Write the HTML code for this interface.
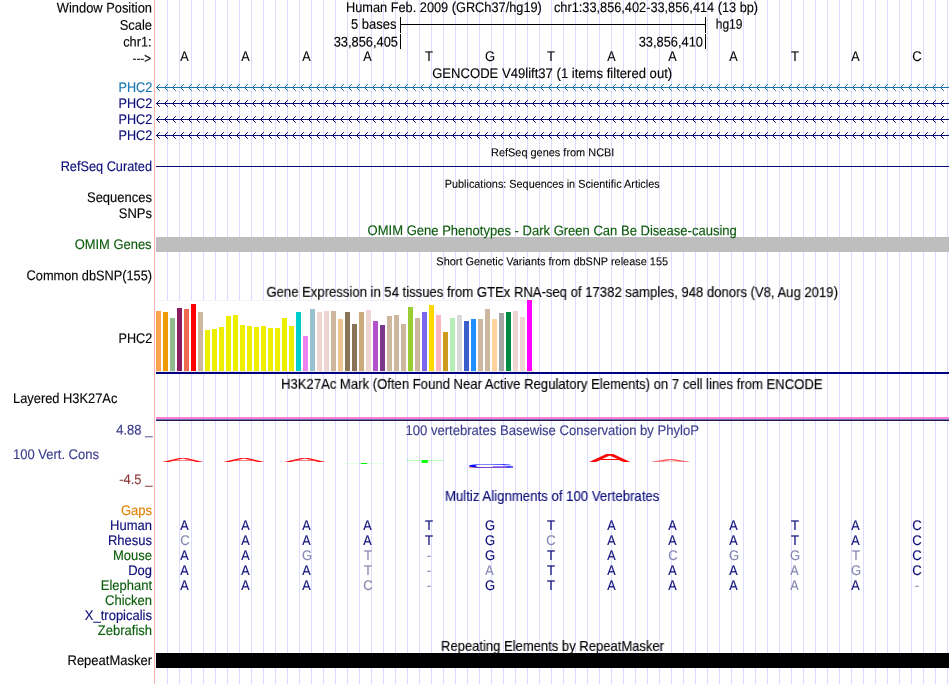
<!DOCTYPE html>
<html><head><meta charset="utf-8"><title>UCSC Genome Browser chr1:33,856,402-33,856,414</title>
<style>
html,body{margin:0;padding:0;background:#fff;}
svg{display:block;will-change:transform;font-family:'Liberation Sans', sans-serif;}
svg rect,svg path{shape-rendering:crispEdges;}
</style></head><body>
<svg width="950" height="684" viewBox="0 0 950 684">
<rect x="0" y="0" width="950" height="684" fill="#fff"/>
<path d="M167.5 0V684M179.5 0V684M191.5 0V684M203.5 0V684M215.5 0V684M227.5 0V684M239.5 0V684M251.5 0V684M263.5 0V684M275.5 0V684M287.5 0V684M299.5 0V684M311.5 0V684M323.5 0V684M335.5 0V684M347.5 0V684M359.5 0V684M371.5 0V684M383.5 0V684M395.5 0V684M407.5 0V684M419.5 0V684M431.5 0V684M443.5 0V684M455.5 0V684M467.5 0V684M479.5 0V684M491.5 0V684M503.5 0V684M515.5 0V684M527.5 0V684M539.5 0V684M551.5 0V684M563.5 0V684M575.5 0V684M587.5 0V684M599.5 0V684M611.5 0V684M623.5 0V684M635.5 0V684M647.5 0V684M659.5 0V684M671.5 0V684M683.5 0V684M695.5 0V684M707.5 0V684M719.5 0V684M731.5 0V684M743.5 0V684M755.5 0V684M767.5 0V684M779.5 0V684M791.5 0V684M803.5 0V684M815.5 0V684M827.5 0V684M839.5 0V684M851.5 0V684M863.5 0V684M875.5 0V684M887.5 0V684M899.5 0V684M911.5 0V684M923.5 0V684M935.5 0V684M947.5 0V684" stroke="#dcdcff" stroke-width="1" fill="none"/>
<rect x="154" y="0" width="1" height="684" fill="#ffb4b4"/>
<rect x="400" y="17" width="1" height="16" fill="#000"/>
<rect x="705" y="17" width="1" height="16" fill="#000"/>
<rect x="400" y="24" width="306" height="1" fill="#000"/>
<rect x="400" y="34" width="1" height="15" fill="#000"/>
<rect x="705" y="34" width="1" height="15" fill="#000"/>
<rect x="156" y="87" width="793" height="1" fill="#1876b0"/>
<path d="M159.5 84.5L156.5 87.5L159.5 90.5M167.5 84.5L164.5 87.5L167.5 90.5M175.5 84.5L172.5 87.5L175.5 90.5M183.5 84.5L180.5 87.5L183.5 90.5M191.5 84.5L188.5 87.5L191.5 90.5M199.5 84.5L196.5 87.5L199.5 90.5M207.5 84.5L204.5 87.5L207.5 90.5M215.5 84.5L212.5 87.5L215.5 90.5M223.5 84.5L220.5 87.5L223.5 90.5M231.5 84.5L228.5 87.5L231.5 90.5M239.5 84.5L236.5 87.5L239.5 90.5M247.5 84.5L244.5 87.5L247.5 90.5M255.5 84.5L252.5 87.5L255.5 90.5M263.5 84.5L260.5 87.5L263.5 90.5M271.5 84.5L268.5 87.5L271.5 90.5M279.5 84.5L276.5 87.5L279.5 90.5M287.5 84.5L284.5 87.5L287.5 90.5M295.5 84.5L292.5 87.5L295.5 90.5M303.5 84.5L300.5 87.5L303.5 90.5M311.5 84.5L308.5 87.5L311.5 90.5M319.5 84.5L316.5 87.5L319.5 90.5M327.5 84.5L324.5 87.5L327.5 90.5M335.5 84.5L332.5 87.5L335.5 90.5M343.5 84.5L340.5 87.5L343.5 90.5M351.5 84.5L348.5 87.5L351.5 90.5M359.5 84.5L356.5 87.5L359.5 90.5M367.5 84.5L364.5 87.5L367.5 90.5M375.5 84.5L372.5 87.5L375.5 90.5M383.5 84.5L380.5 87.5L383.5 90.5M391.5 84.5L388.5 87.5L391.5 90.5M399.5 84.5L396.5 87.5L399.5 90.5M407.5 84.5L404.5 87.5L407.5 90.5M415.5 84.5L412.5 87.5L415.5 90.5M423.5 84.5L420.5 87.5L423.5 90.5M431.5 84.5L428.5 87.5L431.5 90.5M439.5 84.5L436.5 87.5L439.5 90.5M447.5 84.5L444.5 87.5L447.5 90.5M455.5 84.5L452.5 87.5L455.5 90.5M463.5 84.5L460.5 87.5L463.5 90.5M471.5 84.5L468.5 87.5L471.5 90.5M479.5 84.5L476.5 87.5L479.5 90.5M487.5 84.5L484.5 87.5L487.5 90.5M495.5 84.5L492.5 87.5L495.5 90.5M503.5 84.5L500.5 87.5L503.5 90.5M511.5 84.5L508.5 87.5L511.5 90.5M519.5 84.5L516.5 87.5L519.5 90.5M527.5 84.5L524.5 87.5L527.5 90.5M535.5 84.5L532.5 87.5L535.5 90.5M543.5 84.5L540.5 87.5L543.5 90.5M551.5 84.5L548.5 87.5L551.5 90.5M559.5 84.5L556.5 87.5L559.5 90.5M567.5 84.5L564.5 87.5L567.5 90.5M575.5 84.5L572.5 87.5L575.5 90.5M583.5 84.5L580.5 87.5L583.5 90.5M591.5 84.5L588.5 87.5L591.5 90.5M599.5 84.5L596.5 87.5L599.5 90.5M607.5 84.5L604.5 87.5L607.5 90.5M615.5 84.5L612.5 87.5L615.5 90.5M623.5 84.5L620.5 87.5L623.5 90.5M631.5 84.5L628.5 87.5L631.5 90.5M639.5 84.5L636.5 87.5L639.5 90.5M647.5 84.5L644.5 87.5L647.5 90.5M655.5 84.5L652.5 87.5L655.5 90.5M663.5 84.5L660.5 87.5L663.5 90.5M671.5 84.5L668.5 87.5L671.5 90.5M679.5 84.5L676.5 87.5L679.5 90.5M687.5 84.5L684.5 87.5L687.5 90.5M695.5 84.5L692.5 87.5L695.5 90.5M703.5 84.5L700.5 87.5L703.5 90.5M711.5 84.5L708.5 87.5L711.5 90.5M719.5 84.5L716.5 87.5L719.5 90.5M727.5 84.5L724.5 87.5L727.5 90.5M735.5 84.5L732.5 87.5L735.5 90.5M743.5 84.5L740.5 87.5L743.5 90.5M751.5 84.5L748.5 87.5L751.5 90.5M759.5 84.5L756.5 87.5L759.5 90.5M767.5 84.5L764.5 87.5L767.5 90.5M775.5 84.5L772.5 87.5L775.5 90.5M783.5 84.5L780.5 87.5L783.5 90.5M791.5 84.5L788.5 87.5L791.5 90.5M799.5 84.5L796.5 87.5L799.5 90.5M807.5 84.5L804.5 87.5L807.5 90.5M815.5 84.5L812.5 87.5L815.5 90.5M823.5 84.5L820.5 87.5L823.5 90.5M831.5 84.5L828.5 87.5L831.5 90.5M839.5 84.5L836.5 87.5L839.5 90.5M847.5 84.5L844.5 87.5L847.5 90.5M855.5 84.5L852.5 87.5L855.5 90.5M863.5 84.5L860.5 87.5L863.5 90.5M871.5 84.5L868.5 87.5L871.5 90.5M879.5 84.5L876.5 87.5L879.5 90.5M887.5 84.5L884.5 87.5L887.5 90.5M895.5 84.5L892.5 87.5L895.5 90.5M903.5 84.5L900.5 87.5L903.5 90.5M911.5 84.5L908.5 87.5L911.5 90.5M919.5 84.5L916.5 87.5L919.5 90.5M927.5 84.5L924.5 87.5L927.5 90.5M935.5 84.5L932.5 87.5L935.5 90.5M943.5 84.5L940.5 87.5L943.5 90.5" stroke="#1876b0" stroke-width="1" fill="none" stroke-linecap="square" style="shape-rendering:geometricPrecision"/>
<rect x="156" y="103" width="793" height="1" fill="#0c0c78"/>
<path d="M159.5 100.5L156.5 103.5L159.5 106.5M167.5 100.5L164.5 103.5L167.5 106.5M175.5 100.5L172.5 103.5L175.5 106.5M183.5 100.5L180.5 103.5L183.5 106.5M191.5 100.5L188.5 103.5L191.5 106.5M199.5 100.5L196.5 103.5L199.5 106.5M207.5 100.5L204.5 103.5L207.5 106.5M215.5 100.5L212.5 103.5L215.5 106.5M223.5 100.5L220.5 103.5L223.5 106.5M231.5 100.5L228.5 103.5L231.5 106.5M239.5 100.5L236.5 103.5L239.5 106.5M247.5 100.5L244.5 103.5L247.5 106.5M255.5 100.5L252.5 103.5L255.5 106.5M263.5 100.5L260.5 103.5L263.5 106.5M271.5 100.5L268.5 103.5L271.5 106.5M279.5 100.5L276.5 103.5L279.5 106.5M287.5 100.5L284.5 103.5L287.5 106.5M295.5 100.5L292.5 103.5L295.5 106.5M303.5 100.5L300.5 103.5L303.5 106.5M311.5 100.5L308.5 103.5L311.5 106.5M319.5 100.5L316.5 103.5L319.5 106.5M327.5 100.5L324.5 103.5L327.5 106.5M335.5 100.5L332.5 103.5L335.5 106.5M343.5 100.5L340.5 103.5L343.5 106.5M351.5 100.5L348.5 103.5L351.5 106.5M359.5 100.5L356.5 103.5L359.5 106.5M367.5 100.5L364.5 103.5L367.5 106.5M375.5 100.5L372.5 103.5L375.5 106.5M383.5 100.5L380.5 103.5L383.5 106.5M391.5 100.5L388.5 103.5L391.5 106.5M399.5 100.5L396.5 103.5L399.5 106.5M407.5 100.5L404.5 103.5L407.5 106.5M415.5 100.5L412.5 103.5L415.5 106.5M423.5 100.5L420.5 103.5L423.5 106.5M431.5 100.5L428.5 103.5L431.5 106.5M439.5 100.5L436.5 103.5L439.5 106.5M447.5 100.5L444.5 103.5L447.5 106.5M455.5 100.5L452.5 103.5L455.5 106.5M463.5 100.5L460.5 103.5L463.5 106.5M471.5 100.5L468.5 103.5L471.5 106.5M479.5 100.5L476.5 103.5L479.5 106.5M487.5 100.5L484.5 103.5L487.5 106.5M495.5 100.5L492.5 103.5L495.5 106.5M503.5 100.5L500.5 103.5L503.5 106.5M511.5 100.5L508.5 103.5L511.5 106.5M519.5 100.5L516.5 103.5L519.5 106.5M527.5 100.5L524.5 103.5L527.5 106.5M535.5 100.5L532.5 103.5L535.5 106.5M543.5 100.5L540.5 103.5L543.5 106.5M551.5 100.5L548.5 103.5L551.5 106.5M559.5 100.5L556.5 103.5L559.5 106.5M567.5 100.5L564.5 103.5L567.5 106.5M575.5 100.5L572.5 103.5L575.5 106.5M583.5 100.5L580.5 103.5L583.5 106.5M591.5 100.5L588.5 103.5L591.5 106.5M599.5 100.5L596.5 103.5L599.5 106.5M607.5 100.5L604.5 103.5L607.5 106.5M615.5 100.5L612.5 103.5L615.5 106.5M623.5 100.5L620.5 103.5L623.5 106.5M631.5 100.5L628.5 103.5L631.5 106.5M639.5 100.5L636.5 103.5L639.5 106.5M647.5 100.5L644.5 103.5L647.5 106.5M655.5 100.5L652.5 103.5L655.5 106.5M663.5 100.5L660.5 103.5L663.5 106.5M671.5 100.5L668.5 103.5L671.5 106.5M679.5 100.5L676.5 103.5L679.5 106.5M687.5 100.5L684.5 103.5L687.5 106.5M695.5 100.5L692.5 103.5L695.5 106.5M703.5 100.5L700.5 103.5L703.5 106.5M711.5 100.5L708.5 103.5L711.5 106.5M719.5 100.5L716.5 103.5L719.5 106.5M727.5 100.5L724.5 103.5L727.5 106.5M735.5 100.5L732.5 103.5L735.5 106.5M743.5 100.5L740.5 103.5L743.5 106.5M751.5 100.5L748.5 103.5L751.5 106.5M759.5 100.5L756.5 103.5L759.5 106.5M767.5 100.5L764.5 103.5L767.5 106.5M775.5 100.5L772.5 103.5L775.5 106.5M783.5 100.5L780.5 103.5L783.5 106.5M791.5 100.5L788.5 103.5L791.5 106.5M799.5 100.5L796.5 103.5L799.5 106.5M807.5 100.5L804.5 103.5L807.5 106.5M815.5 100.5L812.5 103.5L815.5 106.5M823.5 100.5L820.5 103.5L823.5 106.5M831.5 100.5L828.5 103.5L831.5 106.5M839.5 100.5L836.5 103.5L839.5 106.5M847.5 100.5L844.5 103.5L847.5 106.5M855.5 100.5L852.5 103.5L855.5 106.5M863.5 100.5L860.5 103.5L863.5 106.5M871.5 100.5L868.5 103.5L871.5 106.5M879.5 100.5L876.5 103.5L879.5 106.5M887.5 100.5L884.5 103.5L887.5 106.5M895.5 100.5L892.5 103.5L895.5 106.5M903.5 100.5L900.5 103.5L903.5 106.5M911.5 100.5L908.5 103.5L911.5 106.5M919.5 100.5L916.5 103.5L919.5 106.5M927.5 100.5L924.5 103.5L927.5 106.5M935.5 100.5L932.5 103.5L935.5 106.5M943.5 100.5L940.5 103.5L943.5 106.5" stroke="#0c0c78" stroke-width="1" fill="none" stroke-linecap="square" style="shape-rendering:geometricPrecision"/>
<rect x="156" y="119" width="793" height="1" fill="#0c0c78"/>
<path d="M159.5 116.5L156.5 119.5L159.5 122.5M167.5 116.5L164.5 119.5L167.5 122.5M175.5 116.5L172.5 119.5L175.5 122.5M183.5 116.5L180.5 119.5L183.5 122.5M191.5 116.5L188.5 119.5L191.5 122.5M199.5 116.5L196.5 119.5L199.5 122.5M207.5 116.5L204.5 119.5L207.5 122.5M215.5 116.5L212.5 119.5L215.5 122.5M223.5 116.5L220.5 119.5L223.5 122.5M231.5 116.5L228.5 119.5L231.5 122.5M239.5 116.5L236.5 119.5L239.5 122.5M247.5 116.5L244.5 119.5L247.5 122.5M255.5 116.5L252.5 119.5L255.5 122.5M263.5 116.5L260.5 119.5L263.5 122.5M271.5 116.5L268.5 119.5L271.5 122.5M279.5 116.5L276.5 119.5L279.5 122.5M287.5 116.5L284.5 119.5L287.5 122.5M295.5 116.5L292.5 119.5L295.5 122.5M303.5 116.5L300.5 119.5L303.5 122.5M311.5 116.5L308.5 119.5L311.5 122.5M319.5 116.5L316.5 119.5L319.5 122.5M327.5 116.5L324.5 119.5L327.5 122.5M335.5 116.5L332.5 119.5L335.5 122.5M343.5 116.5L340.5 119.5L343.5 122.5M351.5 116.5L348.5 119.5L351.5 122.5M359.5 116.5L356.5 119.5L359.5 122.5M367.5 116.5L364.5 119.5L367.5 122.5M375.5 116.5L372.5 119.5L375.5 122.5M383.5 116.5L380.5 119.5L383.5 122.5M391.5 116.5L388.5 119.5L391.5 122.5M399.5 116.5L396.5 119.5L399.5 122.5M407.5 116.5L404.5 119.5L407.5 122.5M415.5 116.5L412.5 119.5L415.5 122.5M423.5 116.5L420.5 119.5L423.5 122.5M431.5 116.5L428.5 119.5L431.5 122.5M439.5 116.5L436.5 119.5L439.5 122.5M447.5 116.5L444.5 119.5L447.5 122.5M455.5 116.5L452.5 119.5L455.5 122.5M463.5 116.5L460.5 119.5L463.5 122.5M471.5 116.5L468.5 119.5L471.5 122.5M479.5 116.5L476.5 119.5L479.5 122.5M487.5 116.5L484.5 119.5L487.5 122.5M495.5 116.5L492.5 119.5L495.5 122.5M503.5 116.5L500.5 119.5L503.5 122.5M511.5 116.5L508.5 119.5L511.5 122.5M519.5 116.5L516.5 119.5L519.5 122.5M527.5 116.5L524.5 119.5L527.5 122.5M535.5 116.5L532.5 119.5L535.5 122.5M543.5 116.5L540.5 119.5L543.5 122.5M551.5 116.5L548.5 119.5L551.5 122.5M559.5 116.5L556.5 119.5L559.5 122.5M567.5 116.5L564.5 119.5L567.5 122.5M575.5 116.5L572.5 119.5L575.5 122.5M583.5 116.5L580.5 119.5L583.5 122.5M591.5 116.5L588.5 119.5L591.5 122.5M599.5 116.5L596.5 119.5L599.5 122.5M607.5 116.5L604.5 119.5L607.5 122.5M615.5 116.5L612.5 119.5L615.5 122.5M623.5 116.5L620.5 119.5L623.5 122.5M631.5 116.5L628.5 119.5L631.5 122.5M639.5 116.5L636.5 119.5L639.5 122.5M647.5 116.5L644.5 119.5L647.5 122.5M655.5 116.5L652.5 119.5L655.5 122.5M663.5 116.5L660.5 119.5L663.5 122.5M671.5 116.5L668.5 119.5L671.5 122.5M679.5 116.5L676.5 119.5L679.5 122.5M687.5 116.5L684.5 119.5L687.5 122.5M695.5 116.5L692.5 119.5L695.5 122.5M703.5 116.5L700.5 119.5L703.5 122.5M711.5 116.5L708.5 119.5L711.5 122.5M719.5 116.5L716.5 119.5L719.5 122.5M727.5 116.5L724.5 119.5L727.5 122.5M735.5 116.5L732.5 119.5L735.5 122.5M743.5 116.5L740.5 119.5L743.5 122.5M751.5 116.5L748.5 119.5L751.5 122.5M759.5 116.5L756.5 119.5L759.5 122.5M767.5 116.5L764.5 119.5L767.5 122.5M775.5 116.5L772.5 119.5L775.5 122.5M783.5 116.5L780.5 119.5L783.5 122.5M791.5 116.5L788.5 119.5L791.5 122.5M799.5 116.5L796.5 119.5L799.5 122.5M807.5 116.5L804.5 119.5L807.5 122.5M815.5 116.5L812.5 119.5L815.5 122.5M823.5 116.5L820.5 119.5L823.5 122.5M831.5 116.5L828.5 119.5L831.5 122.5M839.5 116.5L836.5 119.5L839.5 122.5M847.5 116.5L844.5 119.5L847.5 122.5M855.5 116.5L852.5 119.5L855.5 122.5M863.5 116.5L860.5 119.5L863.5 122.5M871.5 116.5L868.5 119.5L871.5 122.5M879.5 116.5L876.5 119.5L879.5 122.5M887.5 116.5L884.5 119.5L887.5 122.5M895.5 116.5L892.5 119.5L895.5 122.5M903.5 116.5L900.5 119.5L903.5 122.5M911.5 116.5L908.5 119.5L911.5 122.5M919.5 116.5L916.5 119.5L919.5 122.5M927.5 116.5L924.5 119.5L927.5 122.5M935.5 116.5L932.5 119.5L935.5 122.5M943.5 116.5L940.5 119.5L943.5 122.5" stroke="#0c0c78" stroke-width="1" fill="none" stroke-linecap="square" style="shape-rendering:geometricPrecision"/>
<rect x="156" y="135" width="793" height="1" fill="#0c0c78"/>
<path d="M159.5 132.5L156.5 135.5L159.5 138.5M167.5 132.5L164.5 135.5L167.5 138.5M175.5 132.5L172.5 135.5L175.5 138.5M183.5 132.5L180.5 135.5L183.5 138.5M191.5 132.5L188.5 135.5L191.5 138.5M199.5 132.5L196.5 135.5L199.5 138.5M207.5 132.5L204.5 135.5L207.5 138.5M215.5 132.5L212.5 135.5L215.5 138.5M223.5 132.5L220.5 135.5L223.5 138.5M231.5 132.5L228.5 135.5L231.5 138.5M239.5 132.5L236.5 135.5L239.5 138.5M247.5 132.5L244.5 135.5L247.5 138.5M255.5 132.5L252.5 135.5L255.5 138.5M263.5 132.5L260.5 135.5L263.5 138.5M271.5 132.5L268.5 135.5L271.5 138.5M279.5 132.5L276.5 135.5L279.5 138.5M287.5 132.5L284.5 135.5L287.5 138.5M295.5 132.5L292.5 135.5L295.5 138.5M303.5 132.5L300.5 135.5L303.5 138.5M311.5 132.5L308.5 135.5L311.5 138.5M319.5 132.5L316.5 135.5L319.5 138.5M327.5 132.5L324.5 135.5L327.5 138.5M335.5 132.5L332.5 135.5L335.5 138.5M343.5 132.5L340.5 135.5L343.5 138.5M351.5 132.5L348.5 135.5L351.5 138.5M359.5 132.5L356.5 135.5L359.5 138.5M367.5 132.5L364.5 135.5L367.5 138.5M375.5 132.5L372.5 135.5L375.5 138.5M383.5 132.5L380.5 135.5L383.5 138.5M391.5 132.5L388.5 135.5L391.5 138.5M399.5 132.5L396.5 135.5L399.5 138.5M407.5 132.5L404.5 135.5L407.5 138.5M415.5 132.5L412.5 135.5L415.5 138.5M423.5 132.5L420.5 135.5L423.5 138.5M431.5 132.5L428.5 135.5L431.5 138.5M439.5 132.5L436.5 135.5L439.5 138.5M447.5 132.5L444.5 135.5L447.5 138.5M455.5 132.5L452.5 135.5L455.5 138.5M463.5 132.5L460.5 135.5L463.5 138.5M471.5 132.5L468.5 135.5L471.5 138.5M479.5 132.5L476.5 135.5L479.5 138.5M487.5 132.5L484.5 135.5L487.5 138.5M495.5 132.5L492.5 135.5L495.5 138.5M503.5 132.5L500.5 135.5L503.5 138.5M511.5 132.5L508.5 135.5L511.5 138.5M519.5 132.5L516.5 135.5L519.5 138.5M527.5 132.5L524.5 135.5L527.5 138.5M535.5 132.5L532.5 135.5L535.5 138.5M543.5 132.5L540.5 135.5L543.5 138.5M551.5 132.5L548.5 135.5L551.5 138.5M559.5 132.5L556.5 135.5L559.5 138.5M567.5 132.5L564.5 135.5L567.5 138.5M575.5 132.5L572.5 135.5L575.5 138.5M583.5 132.5L580.5 135.5L583.5 138.5M591.5 132.5L588.5 135.5L591.5 138.5M599.5 132.5L596.5 135.5L599.5 138.5M607.5 132.5L604.5 135.5L607.5 138.5M615.5 132.5L612.5 135.5L615.5 138.5M623.5 132.5L620.5 135.5L623.5 138.5M631.5 132.5L628.5 135.5L631.5 138.5M639.5 132.5L636.5 135.5L639.5 138.5M647.5 132.5L644.5 135.5L647.5 138.5M655.5 132.5L652.5 135.5L655.5 138.5M663.5 132.5L660.5 135.5L663.5 138.5M671.5 132.5L668.5 135.5L671.5 138.5M679.5 132.5L676.5 135.5L679.5 138.5M687.5 132.5L684.5 135.5L687.5 138.5M695.5 132.5L692.5 135.5L695.5 138.5M703.5 132.5L700.5 135.5L703.5 138.5M711.5 132.5L708.5 135.5L711.5 138.5M719.5 132.5L716.5 135.5L719.5 138.5M727.5 132.5L724.5 135.5L727.5 138.5M735.5 132.5L732.5 135.5L735.5 138.5M743.5 132.5L740.5 135.5L743.5 138.5M751.5 132.5L748.5 135.5L751.5 138.5M759.5 132.5L756.5 135.5L759.5 138.5M767.5 132.5L764.5 135.5L767.5 138.5M775.5 132.5L772.5 135.5L775.5 138.5M783.5 132.5L780.5 135.5L783.5 138.5M791.5 132.5L788.5 135.5L791.5 138.5M799.5 132.5L796.5 135.5L799.5 138.5M807.5 132.5L804.5 135.5L807.5 138.5M815.5 132.5L812.5 135.5L815.5 138.5M823.5 132.5L820.5 135.5L823.5 138.5M831.5 132.5L828.5 135.5L831.5 138.5M839.5 132.5L836.5 135.5L839.5 138.5M847.5 132.5L844.5 135.5L847.5 138.5M855.5 132.5L852.5 135.5L855.5 138.5M863.5 132.5L860.5 135.5L863.5 138.5M871.5 132.5L868.5 135.5L871.5 138.5M879.5 132.5L876.5 135.5L879.5 138.5M887.5 132.5L884.5 135.5L887.5 138.5M895.5 132.5L892.5 135.5L895.5 138.5M903.5 132.5L900.5 135.5L903.5 138.5M911.5 132.5L908.5 135.5L911.5 138.5M919.5 132.5L916.5 135.5L919.5 138.5M927.5 132.5L924.5 135.5L927.5 138.5M935.5 132.5L932.5 135.5L935.5 138.5M943.5 132.5L940.5 135.5L943.5 138.5" stroke="#0c0c78" stroke-width="1" fill="none" stroke-linecap="square" style="shape-rendering:geometricPrecision"/>
<rect x="156" y="166" width="793" height="1" fill="#0c0c78"/>
<rect x="156" y="237" width="793" height="15" fill="#bebebe"/>
<rect x="156" y="300" width="378" height="72" fill="#fff"/>
<rect x="156" y="300" width="378" height="1" fill="#f3f3f3"/>
<rect x="533" y="300" width="1" height="72" fill="#f3f3f3"/>
<rect x="156" y="371" width="378" height="1" fill="#e6e8e6"/>
<rect x="156" y="311" width="5" height="60" fill="#FFA54F"/>
<rect x="163" y="312" width="5" height="59" fill="#EE9A00"/>
<rect x="170" y="318" width="5" height="53" fill="#8FBC8F"/>
<rect x="177" y="308" width="5" height="63" fill="#8B1C62"/>
<rect x="184" y="309" width="5" height="62" fill="#EE6A50"/>
<rect x="191" y="304" width="5" height="67" fill="#FF0000"/>
<rect x="198" y="312" width="5" height="59" fill="#CDB79E"/>
<rect x="205" y="330" width="5" height="41" fill="#EEEE00"/>
<rect x="212" y="329" width="5" height="42" fill="#EEEE00"/>
<rect x="219" y="327" width="5" height="44" fill="#EEEE00"/>
<rect x="226" y="316" width="5" height="55" fill="#EEEE00"/>
<rect x="233" y="315" width="5" height="56" fill="#EEEE00"/>
<rect x="240" y="325" width="5" height="46" fill="#EEEE00"/>
<rect x="247" y="326" width="5" height="45" fill="#EEEE00"/>
<rect x="254" y="327" width="5" height="44" fill="#EEEE00"/>
<rect x="261" y="326" width="5" height="45" fill="#EEEE00"/>
<rect x="268" y="328" width="5" height="43" fill="#EEEE00"/>
<rect x="275" y="328" width="5" height="43" fill="#EEEE00"/>
<rect x="282" y="318" width="5" height="53" fill="#EEEE00"/>
<rect x="289" y="326" width="5" height="45" fill="#EEEE00"/>
<rect x="296" y="312" width="5" height="59" fill="#00CDCD"/>
<rect x="303" y="336" width="5" height="35" fill="#EE82EE"/>
<rect x="310" y="309" width="5" height="62" fill="#9AC0CD"/>
<rect x="317" y="312" width="5" height="59" fill="#EED5D2"/>
<rect x="324" y="311" width="5" height="60" fill="#EED5D2"/>
<rect x="331" y="311" width="5" height="60" fill="#CDB79E"/>
<rect x="338" y="319" width="5" height="52" fill="#EEC591"/>
<rect x="345" y="312" width="5" height="59" fill="#8B7355"/>
<rect x="352" y="324" width="5" height="47" fill="#8B7355"/>
<rect x="359" y="312" width="5" height="59" fill="#CDAA7D"/>
<rect x="366" y="310" width="5" height="61" fill="#EED5D2"/>
<rect x="373" y="321" width="5" height="50" fill="#B452CD"/>
<rect x="380" y="325" width="5" height="46" fill="#7A378B"/>
<rect x="387" y="316" width="5" height="55" fill="#CDB79E"/>
<rect x="394" y="315" width="5" height="56" fill="#CDB79E"/>
<rect x="401" y="324" width="5" height="47" fill="#CDB79E"/>
<rect x="408" y="307" width="5" height="64" fill="#9ACD32"/>
<rect x="415" y="318" width="5" height="53" fill="#CDB79E"/>
<rect x="422" y="312" width="5" height="59" fill="#7A67EE"/>
<rect x="429" y="305" width="5" height="66" fill="#FFD700"/>
<rect x="436" y="315" width="5" height="56" fill="#FFB6C1"/>
<rect x="443" y="332" width="5" height="39" fill="#CD9B1D"/>
<rect x="450" y="318" width="5" height="53" fill="#B4EEB4"/>
<rect x="457" y="315" width="5" height="56" fill="#D9D9D9"/>
<rect x="464" y="321" width="5" height="50" fill="#3A5FCD"/>
<rect x="471" y="319" width="5" height="52" fill="#1E90FF"/>
<rect x="478" y="319" width="5" height="52" fill="#CDB79E"/>
<rect x="485" y="309" width="5" height="62" fill="#CDB79E"/>
<rect x="492" y="319" width="5" height="52" fill="#FFD39B"/>
<rect x="499" y="313" width="5" height="58" fill="#A6A6A6"/>
<rect x="506" y="312" width="5" height="59" fill="#008B45"/>
<rect x="513" y="311" width="5" height="60" fill="#EED5D2"/>
<rect x="520" y="317" width="5" height="54" fill="#EED5D2"/>
<rect x="527" y="300" width="5" height="71" fill="#FF00FF"/>
<rect x="156" y="372" width="793" height="2" fill="#000080"/>
<rect x="156" y="417" width="793" height="2" fill="#ff80d4"/>
<rect x="156" y="419" width="793" height="1" fill="#6870aa"/>
<rect x="156" y="420" width="793" height="1" fill="#2c1858"/>
<rect x="361" y="463" width="6" height="1" fill="#00f000"/>
<rect x="469" y="467" width="37" height="1" fill="#ff0000" opacity="0.45"/>
<rect x="156" y="653" width="793" height="15" fill="#000"/>
<g opacity="0.996">
<text transform="translate(152 12.5) rotate(0.035) scale(0.9208 1)" font-size="14.0" fill="#000" text-anchor="end" stroke="#000" stroke-width="0.15">Window Position</text>
<text transform="translate(152 29.7) rotate(0.035) scale(0.9249 1)" font-size="14.0" fill="#000" text-anchor="end" stroke="#000" stroke-width="0.15">Scale</text>
<text transform="translate(151.6 46.6) rotate(0.035) scale(0.9124 1)" font-size="14.0" fill="#000" text-anchor="end" stroke="#000" stroke-width="0.15">chr1:</text>
<text transform="translate(151.1 63) rotate(0.035) scale(0.8389 1)" font-size="14.0" fill="#000" text-anchor="end" stroke="#000" stroke-width="0.15">---&gt;</text>
<text transform="translate(346 12) rotate(0.035) scale(0.9125 1)" font-size="14.0" fill="#000" stroke="#000" stroke-width="0.15">Human Feb. 2009 (GRCh37/hg19)</text>
<text transform="translate(554 12) rotate(0.035) scale(0.9122 1)" font-size="14.0" fill="#000" stroke="#000" stroke-width="0.15">chr1:33,856,402-33,856,414 (13 bp)</text>
<text transform="translate(396.5 28.8) rotate(0.035) scale(0.9286 1)" font-size="14.0" fill="#000" text-anchor="end" stroke="#000" stroke-width="0.15">5 bases</text>
<text transform="translate(715.7 28.8) rotate(0.035) scale(0.8602 1)" font-size="14.0" fill="#000" stroke="#000" stroke-width="0.15">hg19</text>
<text transform="translate(398 46.5) rotate(0.035) scale(0.9190 1)" font-size="14.0" fill="#000" text-anchor="end" stroke="#000" stroke-width="0.15">33,856,405</text>
<text transform="translate(703 46.5) rotate(0.035) scale(0.9190 1)" font-size="14.0" fill="#000" text-anchor="end" stroke="#000" stroke-width="0.15">33,856,410</text>
<text transform="translate(184.4 61) rotate(0.035) scale(0.9000 1)" font-size="14.0" fill="#000" text-anchor="middle" stroke="#000" stroke-width="0.12">A</text>
<text transform="translate(245.4 61) rotate(0.035) scale(0.9000 1)" font-size="14.0" fill="#000" text-anchor="middle" stroke="#000" stroke-width="0.12">A</text>
<text transform="translate(306.4 61) rotate(0.035) scale(0.9000 1)" font-size="14.0" fill="#000" text-anchor="middle" stroke="#000" stroke-width="0.12">A</text>
<text transform="translate(367.4 61) rotate(0.035) scale(0.9000 1)" font-size="14.0" fill="#000" text-anchor="middle" stroke="#000" stroke-width="0.12">A</text>
<text transform="translate(429.0 61) rotate(0.035) scale(0.9300 1)" font-size="14.0" fill="#000" text-anchor="middle" stroke="#000" stroke-width="0.12">T</text>
<text transform="translate(490.0 61) rotate(0.035) scale(0.9300 1)" font-size="14.0" fill="#000" text-anchor="middle" stroke="#000" stroke-width="0.12">G</text>
<text transform="translate(551.0 61) rotate(0.035) scale(0.9300 1)" font-size="14.0" fill="#000" text-anchor="middle" stroke="#000" stroke-width="0.12">T</text>
<text transform="translate(611.4 61) rotate(0.035) scale(0.9000 1)" font-size="14.0" fill="#000" text-anchor="middle" stroke="#000" stroke-width="0.12">A</text>
<text transform="translate(672.4 61) rotate(0.035) scale(0.9000 1)" font-size="14.0" fill="#000" text-anchor="middle" stroke="#000" stroke-width="0.12">A</text>
<text transform="translate(733.4 61) rotate(0.035) scale(0.9000 1)" font-size="14.0" fill="#000" text-anchor="middle" stroke="#000" stroke-width="0.12">A</text>
<text transform="translate(795.0 61) rotate(0.035) scale(0.9300 1)" font-size="14.0" fill="#000" text-anchor="middle" stroke="#000" stroke-width="0.12">T</text>
<text transform="translate(855.4 61) rotate(0.035) scale(0.9000 1)" font-size="14.0" fill="#000" text-anchor="middle" stroke="#000" stroke-width="0.12">A</text>
<text transform="translate(917.0 61) rotate(0.035) scale(0.9300 1)" font-size="14.0" fill="#000" text-anchor="middle" stroke="#000" stroke-width="0.12">C</text>
<text transform="translate(552.15 78) rotate(0.035) scale(0.9355 1)" font-size="14.0" fill="#000" text-anchor="middle" stroke="#000" stroke-width="0.15">GENCODE V49lift37 (1 items filtered out)</text>
<text transform="translate(152.2 92) rotate(0.035) scale(0.9020 1)" font-size="14.0" fill="#1876b0" text-anchor="end" stroke="#1876b0" stroke-width="0.15">PHC2</text>
<text transform="translate(152.2 108) rotate(0.035) scale(0.9020 1)" font-size="14.0" fill="#0c0c78" text-anchor="end" stroke="#0c0c78" stroke-width="0.15">PHC2</text>
<text transform="translate(152.2 124) rotate(0.035) scale(0.9020 1)" font-size="14.0" fill="#0c0c78" text-anchor="end" stroke="#0c0c78" stroke-width="0.15">PHC2</text>
<text transform="translate(152.2 140) rotate(0.035) scale(0.9020 1)" font-size="14.0" fill="#0c0c78" text-anchor="end" stroke="#0c0c78" stroke-width="0.15">PHC2</text>
<text transform="translate(552.7 156.2) rotate(0.035) scale(0.9609 1)" font-size="11.4" fill="#000" text-anchor="middle" stroke="#000" stroke-width="0.1">RefSeq genes from NCBI</text>
<text transform="translate(152 171) rotate(0.035) scale(0.9113 1)" font-size="14.0" fill="#0c0c78" text-anchor="end" stroke="#0c0c78" stroke-width="0.15">RefSeq Curated</text>
<text transform="translate(552.2 187.7) rotate(0.035) scale(0.9538 1)" font-size="11.4" fill="#000" text-anchor="middle" stroke="#000" stroke-width="0.1">Publications: Sequences in Scientific Articles</text>
<text transform="translate(152 202) rotate(0.035) scale(0.9286 1)" font-size="14.0" fill="#000" text-anchor="end" stroke="#000" stroke-width="0.15">Sequences</text>
<text transform="translate(152 218) rotate(0.035) scale(0.9286 1)" font-size="14.0" fill="#000" text-anchor="end" stroke="#000" stroke-width="0.15">SNPs</text>
<text transform="translate(552.2 235.2) rotate(0.035) scale(0.9313 1)" font-size="14.0" fill="#0c5a0c" text-anchor="middle" stroke="#0c5a0c" stroke-width="0.15">OMIM Gene Phenotypes - Dark Green Can Be Disease-causing</text>
<text transform="translate(151.6 249) rotate(0.035) scale(0.9249 1)" font-size="14.0" fill="#0c5a0c" text-anchor="end" stroke="#0c5a0c" stroke-width="0.15">OMIM Genes</text>
<text transform="translate(552.2 265.3) rotate(0.035) scale(0.9608 1)" font-size="11.4" fill="#000" text-anchor="middle" stroke="#000" stroke-width="0.1">Short Genetic Variants from dbSNP release 155</text>
<text transform="translate(152 280.2) rotate(0.035) scale(0.9119 1)" font-size="14.0" fill="#000" text-anchor="end" stroke="#000" stroke-width="0.15">Common dbSNP(155)</text>
<text transform="translate(552.2 297) rotate(0.035) scale(0.9367 1)" font-size="14.0" fill="#000" text-anchor="middle" stroke="#000" stroke-width="0.15">Gene Expression in 54 tissues from GTEx RNA-seq of 17382 samples, 948 donors (V8, Aug 2019)</text>
<text transform="translate(152.2 343) rotate(0.035) scale(0.9020 1)" font-size="14.0" fill="#000" text-anchor="end" stroke="#000" stroke-width="0.15">PHC2</text>
<text transform="translate(551.8 389) rotate(0.035) scale(0.9366 1)" font-size="14.0" fill="#000" text-anchor="middle" stroke="#000" stroke-width="0.15">H3K27Ac Mark (Often Found Near Active Regulatory Elements) on 7 cell lines from ENCODE</text>
<text transform="translate(13 403) rotate(0.035) scale(0.9187 1)" font-size="14.0" fill="#000" stroke="#000" stroke-width="0.15">Layered H3K27Ac</text>
<text transform="translate(552.2 435) rotate(0.035) scale(0.9341 1)" font-size="14.0" fill="#3c3c8c" text-anchor="middle" stroke="#3c3c8c" stroke-width="0.15">100 vertebrates Basewise Conservation by PhyloP</text>
<text transform="translate(152.4 434.4) rotate(0.035) scale(0.9286 1)" font-size="14.0" fill="#3c3c8c" text-anchor="end" stroke="#3c3c8c" stroke-width="0.15">4.88 _</text>
<text transform="translate(13 459) rotate(0.035) scale(0.9286 1)" font-size="14.0" fill="#3c3c8c" stroke="#3c3c8c" stroke-width="0.15">100 Vert. Cons</text>
<text transform="translate(152.4 484) rotate(0.035) scale(0.9286 1)" font-size="14.0" fill="#8c3c3c" text-anchor="end" stroke="#8c3c3c" stroke-width="0.15">-4.5 _</text>
<text transform="translate(162.48,462) scale(0.6063,0.0581)" font-size="100" fill="#ff0000" opacity="1" stroke="#ff0000" stroke-width="0.5" vector-effect="non-scaling-stroke">A</text>
<text transform="translate(223.48,462) scale(0.6063,0.0581)" font-size="100" fill="#ff0000" opacity="1" stroke="#ff0000" stroke-width="0.5" vector-effect="non-scaling-stroke">A</text>
<text transform="translate(284.48,462) scale(0.6063,0.0581)" font-size="100" fill="#ff0000" opacity="1" stroke="#ff0000" stroke-width="0.5" vector-effect="non-scaling-stroke">A</text>
<text transform="translate(343.72,464) scale(0.6567,0.0218)" font-size="100" fill="#00ff00" opacity="0.4">T</text>
<text transform="translate(404.82,463) scale(0.6567,0.0436)" font-size="100" fill="#00ff00" opacity="1">T</text>
<text transform="translate(465.77,467.5) scale(0.6667,0.0590)" font-size="100" fill="#0000ff" opacity="1" stroke="#0000ff" stroke-width="0.4" vector-effect="non-scaling-stroke">G</text>
<text transform="translate(589.48,462) scale(0.6063,0.1163)" font-size="100" fill="#ff0000" opacity="1" stroke="#ff0000" stroke-width="0.5" vector-effect="non-scaling-stroke">A</text>
<text transform="translate(650.48,462) scale(0.6063,0.0262)" font-size="100" fill="#ff0000" opacity="0.6">A</text>
<text transform="translate(552.2 501) rotate(0.035) scale(0.9440 1)" font-size="14.0" fill="#0c0c78" text-anchor="middle" stroke="#0c0c78" stroke-width="0.15">Multiz Alignments of 100 Vertebrates</text>
<text transform="translate(152 515) rotate(0.035) scale(0.9286 1)" font-size="14.0" fill="#e08000" text-anchor="end" stroke="#e08000" stroke-width="0.15">Gaps</text>
<text transform="translate(152 530) rotate(0.035) scale(0.9286 1)" font-size="14.0" fill="#0c0c78" text-anchor="end" stroke="#0c0c78" stroke-width="0.15">Human</text>
<text transform="translate(152 545) rotate(0.035) scale(0.9286 1)" font-size="14.0" fill="#0c0c78" text-anchor="end" stroke="#0c0c78" stroke-width="0.15">Rhesus</text>
<text transform="translate(152 560) rotate(0.035) scale(0.9286 1)" font-size="14.0" fill="#0a5c0a" text-anchor="end" stroke="#0a5c0a" stroke-width="0.15">Mouse</text>
<text transform="translate(152 575) rotate(0.035) scale(0.9286 1)" font-size="14.0" fill="#0c0c78" text-anchor="end" stroke="#0c0c78" stroke-width="0.15">Dog</text>
<text transform="translate(152 590) rotate(0.035) scale(0.9286 1)" font-size="14.0" fill="#0a5c0a" text-anchor="end" stroke="#0a5c0a" stroke-width="0.15">Elephant</text>
<text transform="translate(152 605) rotate(0.035) scale(0.9286 1)" font-size="14.0" fill="#0a5c0a" text-anchor="end" stroke="#0a5c0a" stroke-width="0.15">Chicken</text>
<text transform="translate(152 620) rotate(0.035) scale(0.9286 1)" font-size="14.0" fill="#0c0c78" text-anchor="end" stroke="#0c0c78" stroke-width="0.15">X_tropicalis</text>
<text transform="translate(152 635) rotate(0.035) scale(0.9286 1)" font-size="14.0" fill="#0a5c0a" text-anchor="end" stroke="#0a5c0a" stroke-width="0.15">Zebrafish</text>
<text transform="translate(184.4 530) rotate(0.035) scale(0.9000 1)" font-size="14.0" fill="#0c0c78" text-anchor="middle" stroke="#0c0c78" stroke-width="0.15">A</text>
<text transform="translate(245.4 530) rotate(0.035) scale(0.9000 1)" font-size="14.0" fill="#0c0c78" text-anchor="middle" stroke="#0c0c78" stroke-width="0.15">A</text>
<text transform="translate(306.4 530) rotate(0.035) scale(0.9000 1)" font-size="14.0" fill="#0c0c78" text-anchor="middle" stroke="#0c0c78" stroke-width="0.15">A</text>
<text transform="translate(367.4 530) rotate(0.035) scale(0.9000 1)" font-size="14.0" fill="#0c0c78" text-anchor="middle" stroke="#0c0c78" stroke-width="0.15">A</text>
<text transform="translate(429.0 530) rotate(0.035) scale(0.9300 1)" font-size="14.0" fill="#0c0c78" text-anchor="middle" stroke="#0c0c78" stroke-width="0.15">T</text>
<text transform="translate(490.0 530) rotate(0.035) scale(0.9300 1)" font-size="14.0" fill="#0c0c78" text-anchor="middle" stroke="#0c0c78" stroke-width="0.15">G</text>
<text transform="translate(551.0 530) rotate(0.035) scale(0.9300 1)" font-size="14.0" fill="#0c0c78" text-anchor="middle" stroke="#0c0c78" stroke-width="0.15">T</text>
<text transform="translate(611.4 530) rotate(0.035) scale(0.9000 1)" font-size="14.0" fill="#0c0c78" text-anchor="middle" stroke="#0c0c78" stroke-width="0.15">A</text>
<text transform="translate(672.4 530) rotate(0.035) scale(0.9000 1)" font-size="14.0" fill="#0c0c78" text-anchor="middle" stroke="#0c0c78" stroke-width="0.15">A</text>
<text transform="translate(733.4 530) rotate(0.035) scale(0.9000 1)" font-size="14.0" fill="#0c0c78" text-anchor="middle" stroke="#0c0c78" stroke-width="0.15">A</text>
<text transform="translate(795.0 530) rotate(0.035) scale(0.9300 1)" font-size="14.0" fill="#0c0c78" text-anchor="middle" stroke="#0c0c78" stroke-width="0.15">T</text>
<text transform="translate(855.4 530) rotate(0.035) scale(0.9000 1)" font-size="14.0" fill="#0c0c78" text-anchor="middle" stroke="#0c0c78" stroke-width="0.15">A</text>
<text transform="translate(917.0 530) rotate(0.035) scale(0.9300 1)" font-size="14.0" fill="#0c0c78" text-anchor="middle" stroke="#0c0c78" stroke-width="0.15">C</text>
<text transform="translate(185.0 545) rotate(0.035) scale(0.9300 1)" font-size="14.0" fill="#8686b2" text-anchor="middle" stroke="#8686b2" stroke-width="0.15">C</text>
<text transform="translate(245.4 545) rotate(0.035) scale(0.9000 1)" font-size="14.0" fill="#0c0c78" text-anchor="middle" stroke="#0c0c78" stroke-width="0.15">A</text>
<text transform="translate(306.4 545) rotate(0.035) scale(0.9000 1)" font-size="14.0" fill="#0c0c78" text-anchor="middle" stroke="#0c0c78" stroke-width="0.15">A</text>
<text transform="translate(367.4 545) rotate(0.035) scale(0.9000 1)" font-size="14.0" fill="#0c0c78" text-anchor="middle" stroke="#0c0c78" stroke-width="0.15">A</text>
<text transform="translate(429.0 545) rotate(0.035) scale(0.9300 1)" font-size="14.0" fill="#0c0c78" text-anchor="middle" stroke="#0c0c78" stroke-width="0.15">T</text>
<text transform="translate(490.0 545) rotate(0.035) scale(0.9300 1)" font-size="14.0" fill="#0c0c78" text-anchor="middle" stroke="#0c0c78" stroke-width="0.15">G</text>
<text transform="translate(551.0 545) rotate(0.035) scale(0.9300 1)" font-size="14.0" fill="#8686b2" text-anchor="middle" stroke="#8686b2" stroke-width="0.15">C</text>
<text transform="translate(611.4 545) rotate(0.035) scale(0.9000 1)" font-size="14.0" fill="#0c0c78" text-anchor="middle" stroke="#0c0c78" stroke-width="0.15">A</text>
<text transform="translate(672.4 545) rotate(0.035) scale(0.9000 1)" font-size="14.0" fill="#0c0c78" text-anchor="middle" stroke="#0c0c78" stroke-width="0.15">A</text>
<text transform="translate(733.4 545) rotate(0.035) scale(0.9000 1)" font-size="14.0" fill="#0c0c78" text-anchor="middle" stroke="#0c0c78" stroke-width="0.15">A</text>
<text transform="translate(795.0 545) rotate(0.035) scale(0.9300 1)" font-size="14.0" fill="#0c0c78" text-anchor="middle" stroke="#0c0c78" stroke-width="0.15">T</text>
<text transform="translate(855.4 545) rotate(0.035) scale(0.9000 1)" font-size="14.0" fill="#0c0c78" text-anchor="middle" stroke="#0c0c78" stroke-width="0.15">A</text>
<text transform="translate(917.0 545) rotate(0.035) scale(0.9300 1)" font-size="14.0" fill="#0c0c78" text-anchor="middle" stroke="#0c0c78" stroke-width="0.15">C</text>
<text transform="translate(184.4 560) rotate(0.035) scale(0.9000 1)" font-size="14.0" fill="#0c0c78" text-anchor="middle" stroke="#0c0c78" stroke-width="0.15">A</text>
<text transform="translate(245.4 560) rotate(0.035) scale(0.9000 1)" font-size="14.0" fill="#0c0c78" text-anchor="middle" stroke="#0c0c78" stroke-width="0.15">A</text>
<text transform="translate(307.0 560) rotate(0.035) scale(0.9300 1)" font-size="14.0" fill="#8686b2" text-anchor="middle" stroke="#8686b2" stroke-width="0.15">G</text>
<text transform="translate(368.0 560) rotate(0.035) scale(0.9300 1)" font-size="14.0" fill="#8686b2" text-anchor="middle" stroke="#8686b2" stroke-width="0.15">T</text>
<text transform="translate(429.0 560) rotate(0.035) scale(0.9300 1)" font-size="14.0" fill="#8686b2" text-anchor="middle" stroke="#8686b2" stroke-width="0.15">-</text>
<text transform="translate(490.0 560) rotate(0.035) scale(0.9300 1)" font-size="14.0" fill="#0c0c78" text-anchor="middle" stroke="#0c0c78" stroke-width="0.15">G</text>
<text transform="translate(551.0 560) rotate(0.035) scale(0.9300 1)" font-size="14.0" fill="#0c0c78" text-anchor="middle" stroke="#0c0c78" stroke-width="0.15">T</text>
<text transform="translate(611.4 560) rotate(0.035) scale(0.9000 1)" font-size="14.0" fill="#0c0c78" text-anchor="middle" stroke="#0c0c78" stroke-width="0.15">A</text>
<text transform="translate(673.0 560) rotate(0.035) scale(0.9300 1)" font-size="14.0" fill="#8686b2" text-anchor="middle" stroke="#8686b2" stroke-width="0.15">C</text>
<text transform="translate(734.0 560) rotate(0.035) scale(0.9300 1)" font-size="14.0" fill="#8686b2" text-anchor="middle" stroke="#8686b2" stroke-width="0.15">G</text>
<text transform="translate(795.0 560) rotate(0.035) scale(0.9300 1)" font-size="14.0" fill="#8686b2" text-anchor="middle" stroke="#8686b2" stroke-width="0.15">G</text>
<text transform="translate(856.0 560) rotate(0.035) scale(0.9300 1)" font-size="14.0" fill="#8686b2" text-anchor="middle" stroke="#8686b2" stroke-width="0.15">T</text>
<text transform="translate(917.0 560) rotate(0.035) scale(0.9300 1)" font-size="14.0" fill="#0c0c78" text-anchor="middle" stroke="#0c0c78" stroke-width="0.15">C</text>
<text transform="translate(184.4 575) rotate(0.035) scale(0.9000 1)" font-size="14.0" fill="#0c0c78" text-anchor="middle" stroke="#0c0c78" stroke-width="0.15">A</text>
<text transform="translate(245.4 575) rotate(0.035) scale(0.9000 1)" font-size="14.0" fill="#0c0c78" text-anchor="middle" stroke="#0c0c78" stroke-width="0.15">A</text>
<text transform="translate(306.4 575) rotate(0.035) scale(0.9000 1)" font-size="14.0" fill="#0c0c78" text-anchor="middle" stroke="#0c0c78" stroke-width="0.15">A</text>
<text transform="translate(368.0 575) rotate(0.035) scale(0.9300 1)" font-size="14.0" fill="#8686b2" text-anchor="middle" stroke="#8686b2" stroke-width="0.15">T</text>
<text transform="translate(429.0 575) rotate(0.035) scale(0.9300 1)" font-size="14.0" fill="#8686b2" text-anchor="middle" stroke="#8686b2" stroke-width="0.15">-</text>
<text transform="translate(489.4 575) rotate(0.035) scale(0.9000 1)" font-size="14.0" fill="#8686b2" text-anchor="middle" stroke="#8686b2" stroke-width="0.15">A</text>
<text transform="translate(551.0 575) rotate(0.035) scale(0.9300 1)" font-size="14.0" fill="#0c0c78" text-anchor="middle" stroke="#0c0c78" stroke-width="0.15">T</text>
<text transform="translate(611.4 575) rotate(0.035) scale(0.9000 1)" font-size="14.0" fill="#0c0c78" text-anchor="middle" stroke="#0c0c78" stroke-width="0.15">A</text>
<text transform="translate(672.4 575) rotate(0.035) scale(0.9000 1)" font-size="14.0" fill="#0c0c78" text-anchor="middle" stroke="#0c0c78" stroke-width="0.15">A</text>
<text transform="translate(733.4 575) rotate(0.035) scale(0.9000 1)" font-size="14.0" fill="#0c0c78" text-anchor="middle" stroke="#0c0c78" stroke-width="0.15">A</text>
<text transform="translate(794.4 575) rotate(0.035) scale(0.9000 1)" font-size="14.0" fill="#8686b2" text-anchor="middle" stroke="#8686b2" stroke-width="0.15">A</text>
<text transform="translate(856.0 575) rotate(0.035) scale(0.9300 1)" font-size="14.0" fill="#8686b2" text-anchor="middle" stroke="#8686b2" stroke-width="0.15">G</text>
<text transform="translate(917.0 575) rotate(0.035) scale(0.9300 1)" font-size="14.0" fill="#0c0c78" text-anchor="middle" stroke="#0c0c78" stroke-width="0.15">C</text>
<text transform="translate(184.4 590) rotate(0.035) scale(0.9000 1)" font-size="14.0" fill="#0c0c78" text-anchor="middle" stroke="#0c0c78" stroke-width="0.15">A</text>
<text transform="translate(245.4 590) rotate(0.035) scale(0.9000 1)" font-size="14.0" fill="#0c0c78" text-anchor="middle" stroke="#0c0c78" stroke-width="0.15">A</text>
<text transform="translate(306.4 590) rotate(0.035) scale(0.9000 1)" font-size="14.0" fill="#0c0c78" text-anchor="middle" stroke="#0c0c78" stroke-width="0.15">A</text>
<text transform="translate(368.0 590) rotate(0.035) scale(0.9300 1)" font-size="14.0" fill="#8686b2" text-anchor="middle" stroke="#8686b2" stroke-width="0.15">C</text>
<text transform="translate(429.0 590) rotate(0.035) scale(0.9300 1)" font-size="14.0" fill="#8686b2" text-anchor="middle" stroke="#8686b2" stroke-width="0.15">-</text>
<text transform="translate(490.0 590) rotate(0.035) scale(0.9300 1)" font-size="14.0" fill="#0c0c78" text-anchor="middle" stroke="#0c0c78" stroke-width="0.15">G</text>
<text transform="translate(551.0 590) rotate(0.035) scale(0.9300 1)" font-size="14.0" fill="#0c0c78" text-anchor="middle" stroke="#0c0c78" stroke-width="0.15">T</text>
<text transform="translate(611.4 590) rotate(0.035) scale(0.9000 1)" font-size="14.0" fill="#0c0c78" text-anchor="middle" stroke="#0c0c78" stroke-width="0.15">A</text>
<text transform="translate(672.4 590) rotate(0.035) scale(0.9000 1)" font-size="14.0" fill="#0c0c78" text-anchor="middle" stroke="#0c0c78" stroke-width="0.15">A</text>
<text transform="translate(733.4 590) rotate(0.035) scale(0.9000 1)" font-size="14.0" fill="#0c0c78" text-anchor="middle" stroke="#0c0c78" stroke-width="0.15">A</text>
<text transform="translate(794.4 590) rotate(0.035) scale(0.9000 1)" font-size="14.0" fill="#8686b2" text-anchor="middle" stroke="#8686b2" stroke-width="0.15">A</text>
<text transform="translate(855.4 590) rotate(0.035) scale(0.9000 1)" font-size="14.0" fill="#0c0c78" text-anchor="middle" stroke="#0c0c78" stroke-width="0.15">A</text>
<text transform="translate(917.0 590) rotate(0.035) scale(0.9300 1)" font-size="14.0" fill="#8686b2" text-anchor="middle" stroke="#8686b2" stroke-width="0.15">-</text>
<text transform="translate(552.5 651) rotate(0.035) scale(0.9316 1)" font-size="14.0" fill="#000" text-anchor="middle" stroke="#000" stroke-width="0.15">Repeating Elements by RepeatMasker</text>
<text transform="translate(152 665) rotate(0.035) scale(0.9286 1)" font-size="14.0" fill="#000" text-anchor="end" stroke="#000" stroke-width="0.15">RepeatMasker</text>
</g>
</svg>
</body></html>
